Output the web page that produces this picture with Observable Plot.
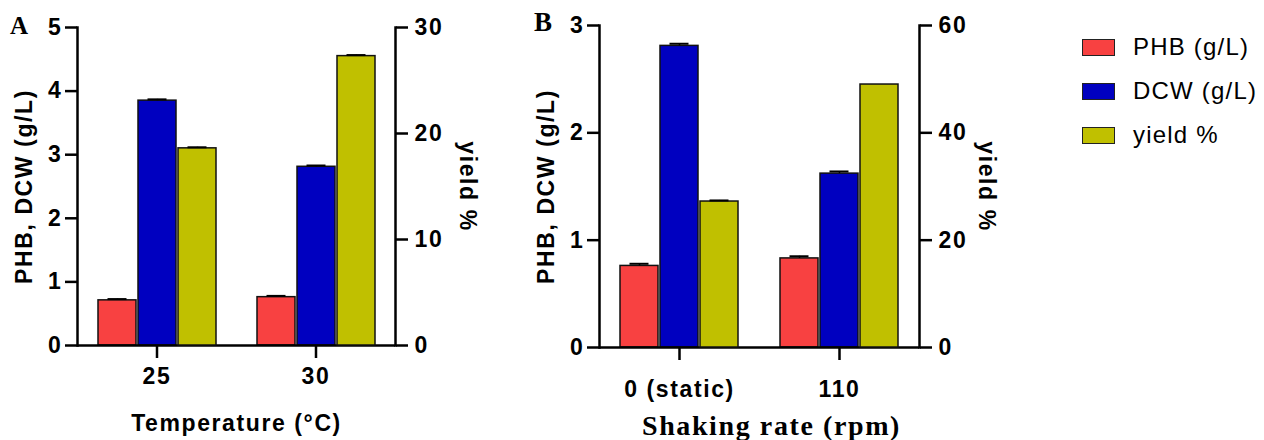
<!DOCTYPE html>
<html>
<head>
<meta charset="utf-8">
<script src="https://cdn.jsdelivr.net/npm/d3@7"></script>
<script src="https://cdn.jsdelivr.net/npm/@observablehq/plot@0.6"></script>
<style>
  body { margin: 0; background: #fff; }
  #wrap { position: relative; width: 1264px; height: 440px; overflow: hidden; background: #fff; }
  #wrap svg { position: absolute; top: 0; }
  .letter { position: absolute; font-family: "Liberation Serif", "Times New Roman", serif; font-weight: bold; line-height: 1; }
  #legend { position: absolute; left: 1082px; top: 25px; font-family: "Liberation Sans", Arial, sans-serif; font-size: 24px; letter-spacing: 1.2px; color: #000; }
  #legend .row { display: flex; align-items: center; height: 44px; }
  #legend .sw { width: 31px; height: 15px; border: 1.5px solid #222; margin-right: 18px; }
</style>
</head>
<body>
<div id="wrap"></div>
<script>
// ---- data ----
const seriesNames = ["PHB (g/L)", "DCW (g/L)", "yield %"];
const seriesColors = ["#F84141", "#0000C0", "#C0C000"];

const tempGroups = ["25", "30"];
const tempPHB = [0.71, 0.76];
const tempPHBerr = [0.02, 0.02];
const tempDCW = [3.85, 2.81];
const tempDCWerr = [0.02, 0.02];
const tempYield = [18.6, 27.3];
const tempYieldErr = [0.1, 0.1];

const shakeGroups = ["0 (static)", "110"];
const shakePHB = [0.76, 0.83];
const shakePHBerr = [0.02, 0.02];
const shakeDCW = [2.81, 1.62];
const shakeDCWerr = [0.02, 0.02];
const shakeYield = [27.2, 49.0];
const shakeYieldErr = [0.2, 0];

const tempLeftTicks = [0, 1, 2, 3, 4, 5];
const tempRightTicks = [0, 10, 20, 30];
const shakeLeftTicks = [0, 1, 2, 3];
const shakeRightTicks = [0, 20, 40, 60];

const SANS = "'Liberation Sans', Arial, sans-serif";
const SERIF = "'Liberation Serif', 'Times New Roman', serif";
const FS = 23;
const fmt = d3.format("d");

function rowsFor(groups, vals, errs, s) {
  return groups.map((g, i) => ({group: g, series: s, value: vals[i], err: errs[i]}));
}

function panel(cfg) {
  const left = [
    ...rowsFor(cfg.groups, cfg.phb, cfg.phbErr, seriesNames[0]),
    ...rowsFor(cfg.groups, cfg.dcw, cfg.dcwErr, seriesNames[1])
  ];
  const right = rowsFor(cfg.groups, cfg.yld, cfg.yldErr, seriesNames[2]);
  const common = {
    width: cfg.width, height: 440,
    marginLeft: cfg.ml, marginRight: cfg.mr, marginTop: cfg.mt, marginBottom: cfg.mb,
    fx: {domain: cfg.groups, padding: 0, axis: null, label: null},
    x: {domain: seriesNames, paddingInner: 0.05, paddingOuter: 0.51, axis: null},
    color: {domain: seriesNames, range: seriesColors},
    style: {fontFamily: SANS, fontSize: FS + "px", fontWeight: "bold", background: "transparent", letterSpacing: "1.6px", overflow: "visible"}
  };
  const barMarks = (data) => [
    Plot.barY(data, {fx: "group", x: "series", y: "value", fill: "series", stroke: "#111", strokeWidth: 1.5}),
    Plot.ruleX(data.filter(d => d.err > 0), {fx: "group", x: "series", y1: "value", y2: d => d.value + d.err, stroke: "#000", strokeWidth: 1.5}),
    Plot.tickY(data.filter(d => d.err > 0), {fx: "group", x: "series", y: d => d.value + d.err, stroke: "#000", strokeWidth: 2, insetLeft: 9.5, insetRight: 9.5})
  ];
  const xLabelMarks = cfg.serifX
    ? [
        Plot.axisFx({anchor: "bottom", tickSize: 13, tickPadding: cfg.tickPadX, strokeWidth: 2.5, fontSize: FS, label: null}),
        Plot.text([cfg.xLabel], {frameAnchor: "bottom", facetAnchor: "bottom", dy: cfg.xLabelDy, dx: cfg.xLabelDx, fontFamily: SERIF, fontSize: 28, fontWeight: "bold", letterSpacing: "0.3px", textAnchor: "middle", lineAnchor: "bottom", facet: "super"})
      ]
    : [
        Plot.axisFx({anchor: "bottom", tickSize: 13, tickPadding: cfg.tickPadX, strokeWidth: 2.5, fontSize: FS, label: cfg.xLabel, labelAnchor: "center", labelArrow: "none", labelOffset: cfg.xLabelOffset})
      ];
  const main = Plot.plot({
    ...common,
    y: {domain: [0, cfg.leftMax], axis: null},
    marks: [
      ...barMarks(left),
      Plot.ruleY([0], {stroke: "#000", strokeWidth: 2.5}),
      Plot.frame({anchor: "left", facetAnchor: "left", stroke: "#000", strokeWidth: 2.5}),
      Plot.axisY({anchor: "left", ticks: cfg.leftTicks, tickFormat: fmt, tickSize: 12, tickPadding: 3, strokeWidth: 2.5, fontSize: FS,
        label: "PHB, DCW (g/L)", labelAnchor: "center", labelArrow: "none", labelOffset: cfg.leftLabelOffset}),
      ...xLabelMarks
    ]
  });
  const over = Plot.plot({
    ...common,
    y: {domain: [0, cfg.rightMax], axis: null},
    marks: [
      ...barMarks(right),
      Plot.frame({anchor: "right", facetAnchor: "right", stroke: "#000", strokeWidth: 2.5}),
      Plot.axisY({anchor: "right", ticks: cfg.rightTicks, tickFormat: fmt, tickSize: 12, tickPadding: 7, strokeWidth: 2.5, fontSize: FS, label: null}),
      Plot.text(["yield %"], {frameAnchor: "right", facetAnchor: "right", rotate: 90, dx: cfg.rightLabelDx, textAnchor: "middle", lineAnchor: "middle", fontSize: FS, fontWeight: "bold"})
    ]
  });
  main.style.left = cfg.left + "px";
  over.style.left = cfg.left + "px";
  return [main, over];
}

const wrap = document.getElementById("wrap");

panel({
  left: 0, width: 500, ml: 77, mr: 105, mt: 27, mb: 95,
  groups: tempGroups, phb: tempPHB, phbErr: tempPHBerr, dcw: tempDCW, dcwErr: tempDCWerr,
  yld: tempYield, yldErr: tempYieldErr,
  leftMax: 5, rightMax: 30, leftTicks: tempLeftTicks, rightTicks: tempRightTicks,
  leftLabelOffset: 62, rightLabelDx: 72, tickPadX: 9, xLabel: "Temperature (°C)", xLabelOffset: 85, serifX: false
}).forEach(s => wrap.appendChild(s));

panel({
  left: 500, width: 500, ml: 99, mr: 81, mt: 25, mb: 93,
  groups: shakeGroups, phb: shakePHB, phbErr: shakePHBerr, dcw: shakeDCW, dcwErr: shakeDCWerr,
  yld: shakeYield, yldErr: shakeYieldErr,
  leftMax: 3, rightMax: 60, leftTicks: shakeLeftTicks, rightTicks: shakeRightTicks,
  leftLabelOffset: 62, rightLabelDx: 67, tickPadX: 20, xLabel: "Shaking rate (rpm)", xLabelDy: 87, xLabelDx: 12, serifX: true
}).forEach(s => wrap.appendChild(s));

// panel letters
[["A", 10, 13, 25], ["B", 534, 9, 27]].forEach(([t, x, y, fs]) => {
  const d = document.createElement("div");
  d.className = "letter";
  d.textContent = t;
  d.style.left = x + "px"; d.style.top = y + "px"; d.style.fontSize = fs + "px";
  wrap.appendChild(d);
});

// legend
const legend = document.createElement("div");
legend.id = "legend";
seriesNames.forEach((name, i) => {
  const row = document.createElement("div");
  row.className = "row";
  const sw = document.createElement("div");
  sw.className = "sw";
  sw.style.background = seriesColors[i];
  const lab = document.createElement("span");
  lab.textContent = name;
  row.appendChild(sw); row.appendChild(lab);
  legend.appendChild(row);
});
wrap.appendChild(legend);
</script>
</body>
</html>
